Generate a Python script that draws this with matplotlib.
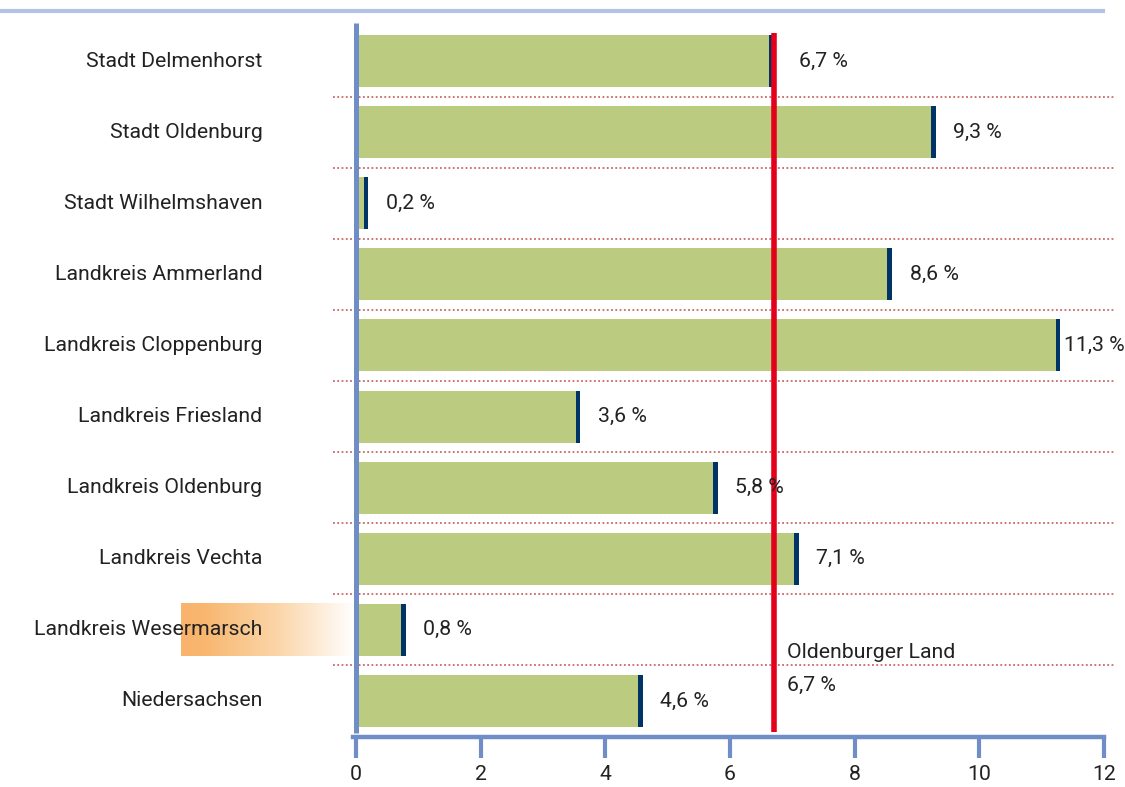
import numpy as np
import matplotlib
matplotlib.use('Agg')
import matplotlib.pyplot as plt
from matplotlib.colors import LinearSegmentedColormap
from matplotlib.lines import Line2D

plt.rcParams['font.family'] = ['Roboto', 'DejaVu Sans']
plt.rcParams['font.size'] = 15.3

regions = ['Stadt Delmenhorst', 'Stadt Oldenburg', 'Stadt Wilhelmshaven',
           'Landkreis Ammerland', 'Landkreis Cloppenburg', 'Landkreis Friesland',
           'Landkreis Oldenburg', 'Landkreis Vechta', 'Landkreis Wesermarsch',
           'Niedersachsen']
values = [6.7, 9.3, 0.2, 8.6, 11.3, 3.6, 5.8, 7.1, 0.8, 4.6]
ref_value = 6.7
ref_label = 'Oldenburger Land'
highlight = 'Landkreis Wesermarsch'
xticks = [0, 2, 4, 6, 8, 10, 12]

green = '#bbcb80'
navy = '#003366'
axis_blue = '#6f8dc6'
red = '#e3001b'
dot_red = '#c0504d'
text_col = '#222222'

W, H = 1125, 787
fig = plt.figure(figsize=(W / 100, H / 100), dpi=100)
ax = fig.add_axes([356 / W, 1 - 737 / H, (1104 - 356) / W, (737 - 11) / H])

y = np.arange(len(regions))
vals = np.array(values)
ylim = (9 + 36 / 71.1, -50 / 71.1)

# bars + dark end caps
cap = 0.075
ax.barh(y, vals - cap - 0.03, height=0.73, left=0.03, color=green, zorder=2)
ax.barh(y, cap, height=0.73, left=vals - cap, color=navy, zorder=2.5)

# dotted separators
for yy in y[:-1] + 0.5:
    ax.plot([-0.37, 12.17], [yy, yy], color=dot_red, lw=1.1,
            ls=(0, (1.2, 1.6)), clip_on=False, zorder=1)

# reference line
ax.plot([ref_value, ref_value], [-0.4, 9.44], color=red, lw=4, zorder=3,
        solid_capstyle='butt')
ax.text(ref_value + 0.22, 8.32, ref_label, ha='left', va='center', color=text_col)
ax.text(ref_value + 0.22, 8.78, f'{ref_value:.1f} %'.replace('.', ','),
        ha='left', va='center', color=text_col)

# value labels
for yy, v in zip(y, values):
    if abs(v - ref_value) < 0.15:
        off = 0.4
    elif v > 11:
        off = 0.06
    else:
        off = 0.28
    ax.text(v + off, yy, f'{v:.1f} %'.replace('.', ','), ha='left', va='center',
            color=text_col, zorder=4)

# category labels
for yy, r in zip(y, regions):
    ax.text(-1.5, yy, r, ha='right', va='center', color=text_col, zorder=4)

# highlight gradient behind one label
hi = regions.index(highlight)
cmap = LinearSegmentedColormap.from_list(
    'hl', [(0, '#f8b46c'), (0.12, '#f8b66e'), (0.55, '#fbd5a8'), (1, '#ffffff')])
grad = np.linspace(0, 1, 256).reshape(1, -1)
ax.imshow(grad, cmap=cmap, aspect='auto', extent=[-2.81, -0.02, hi + 0.37, hi - 0.37],
          clip_on=False, zorder=0.5, interpolation='bilinear')
ax.set_xlim(0, 12)
ax.set_ylim(*ylim)

# axes styling
for s in ['top', 'right', 'left']:
    ax.spines[s].set_visible(False)
ax.spines['bottom'].set_color(axis_blue)
ax.spines['bottom'].set_linewidth(3.2)
ax.spines['bottom'].set_bounds(-0.05, 12)
ax.plot([0, 0], [-0.53, 9.45], color=axis_blue, lw=3.6, clip_on=False, zorder=3,
        solid_capstyle='butt')
ax.set_yticks([])
ax.set_xticks(xticks)
ax.set_xticklabels([str(t) for t in xticks], color=text_col)
ax.tick_params(axis='x', length=15, width=3, color=axis_blue, pad=5)

# top rule
fig.add_artist(Line2D([0, 1103 / W], [1 - 11 / H, 1 - 11 / H], color='#b4c3e4', lw=3))

fig.savefig('out.png', dpi=100)
